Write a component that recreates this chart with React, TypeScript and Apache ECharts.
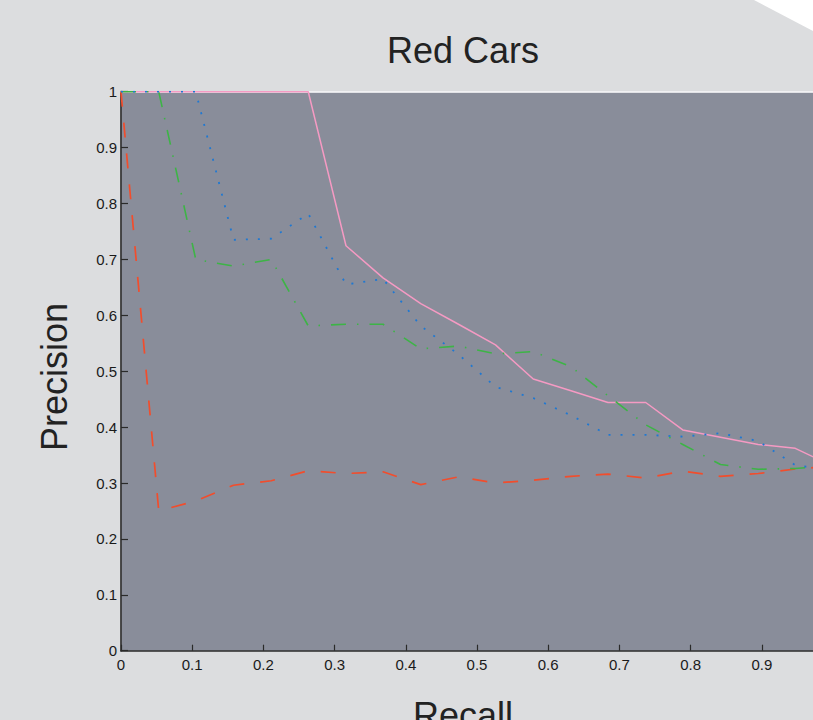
import React, { useEffect, useRef } from "react";
import * as echarts from "echarts";

// Recall positions shared by every curve
const RECALL = [0, 0.053, 0.105, 0.158, 0.211, 0.263, 0.316, 0.368, 0.421, 0.474, 0.526, 0.579, 0.632, 0.684, 0.737, 0.789, 0.842, 0.895, 0.947, 1.0];

// Precision values per method
const RED = [1, 0.25, 0.268, 0.296, 0.304, 0.322, 0.317, 0.32, 0.297, 0.311, 0.3, 0.305, 0.312, 0.316, 0.309, 0.321, 0.312, 0.317, 0.325, 0.33];
const GREEN = [1, 1, 0.7, 0.688, 0.7, 0.581, 0.584, 0.584, 0.54, 0.545, 0.531, 0.535, 0.508, 0.456, 0.404, 0.369, 0.333, 0.3245, 0.326, 0.331];
const BLUE = [1, 1, 1, 0.735, 0.737, 0.782, 0.655, 0.665, 0.581, 0.53, 0.472, 0.452, 0.421, 0.386, 0.386, 0.383, 0.389, 0.375, 0.332, 0.322];
const PINK = [1, 1, 1, 1, 1, 1, 0.7245, 0.667, 0.621, 0.584, 0.547, 0.486, 0.465, 0.444, 0.444, 0.395, 0.382, 0.369, 0.362, 0.33];

const TITLE = "Red Cars";
const X_NAME = "Recall";
const Y_NAME = "Precision";

const FONT = "'Liberation Sans', Arial, Helvetica, sans-serif";

function pairs(ys: number[]) {
  return RECALL.map((x, i) => [x, ys[i]]);
}

export default function App() {
  const ref = useRef<HTMLDivElement>(null);

  useEffect(() => {
    if (!ref.current) return;
    const chart = echarts.init(ref.current, undefined, { renderer: "svg" });
    const axisLabel = { color: "#1a1a1a", fontSize: 15, fontFamily: FONT };
    chart.setOption({
      animation: false,
      backgroundColor: "#dcdddf",
      grid: {
        left: 121,
        top: 91.7,
        width: 712,
        height: 559,
        show: true,
        backgroundColor: "#898d9a",
        borderWidth: 0,
        containLabel: false,
        outerBoundsMode: "none",
      },
      xAxis: [
        {
          type: "value",
          min: 0,
          max: 1,
          interval: 0.1,
          position: "bottom",
          axisLine: { show: true, lineStyle: { color: "#2a2a2a", width: 1.5 } },
          axisTick: { show: true, inside: true, length: 6, lineStyle: { color: "#2a2a2a", width: 1.2 } },
          axisLabel: { ...axisLabel, margin: 6, showMaxLabel: false },
          splitLine: { show: false },
        },
        {
          type: "value",
          min: 0,
          max: 1,
          position: "top",
          axisLine: { show: true, onZero: false, lineStyle: { color: "#ffffff", width: 1.5 } },
          axisTick: { show: false },
          axisLabel: { show: false },
          splitLine: { show: false },
        },
      ],
      yAxis: {
        type: "value",
        min: 0,
        max: 1,
        interval: 0.1,
        axisLine: { show: true, lineStyle: { color: "#3a3a3a", width: 1.8 } },
        axisTick: { show: true, inside: true, length: 7, lineStyle: { color: "#2a2a2a", width: 1.2 } },
        axisLabel: { ...axisLabel, margin: 4 },
        splitLine: { show: false },
      },
      series: [
        {
          type: "line",
          data: pairs(PINK),
          symbol: "none",
          lineStyle: { color: "#f59ac3", width: 1.5, type: "solid" },
        },
        {
          type: "line",
          data: pairs(RED),
          symbol: "none",
          lineStyle: { color: "#f24d2c", width: 1.7, type: [15, 16] },
        },
        {
          type: "line",
          data: pairs(GREEN),
          symbol: "none",
          lineStyle: { color: "#3db446", width: 1.6, type: [15, 11, 1.5, 11] },
        },
        {
          type: "line",
          data: pairs(BLUE),
          symbol: "none",
          lineStyle: { color: "#1f78d2", width: 1.8, type: [2, 10] },
        },
      ],
      graphic: [
        {
          type: "polygon",
          shape: { points: [[754, 0], [813, 0], [813, 31]] },
          style: { fill: "#ffffff" },
          z: 100,
        },
        {
          type: "text",
          x: 463,
          y: 50,
          style: {
            text: TITLE,
            font: `36px ${FONT}`,
            fill: "#222222",
            textAlign: "center",
            textVerticalAlign: "middle",
          },
        },
        {
          type: "text",
          x: 54,
          y: 377,
          rotation: Math.PI / 2,
          style: {
            text: Y_NAME,
            font: `36px ${FONT}`,
            fill: "#222222",
            textAlign: "center",
            textVerticalAlign: "middle",
          },
        },
        {
          type: "text",
          x: 463,
          y: 715,
          style: {
            text: X_NAME,
            font: `36px ${FONT}`,
            fill: "#222222",
            textAlign: "center",
            textVerticalAlign: "middle",
          },
        },
      ],
    });
    return () => chart.dispose();
  }, []);

  return (
    <div
      ref={ref}
      style={{ position: "fixed", left: 0, top: 0, width: 813, height: 720, overflow: "hidden" }}
    />
  );
}
